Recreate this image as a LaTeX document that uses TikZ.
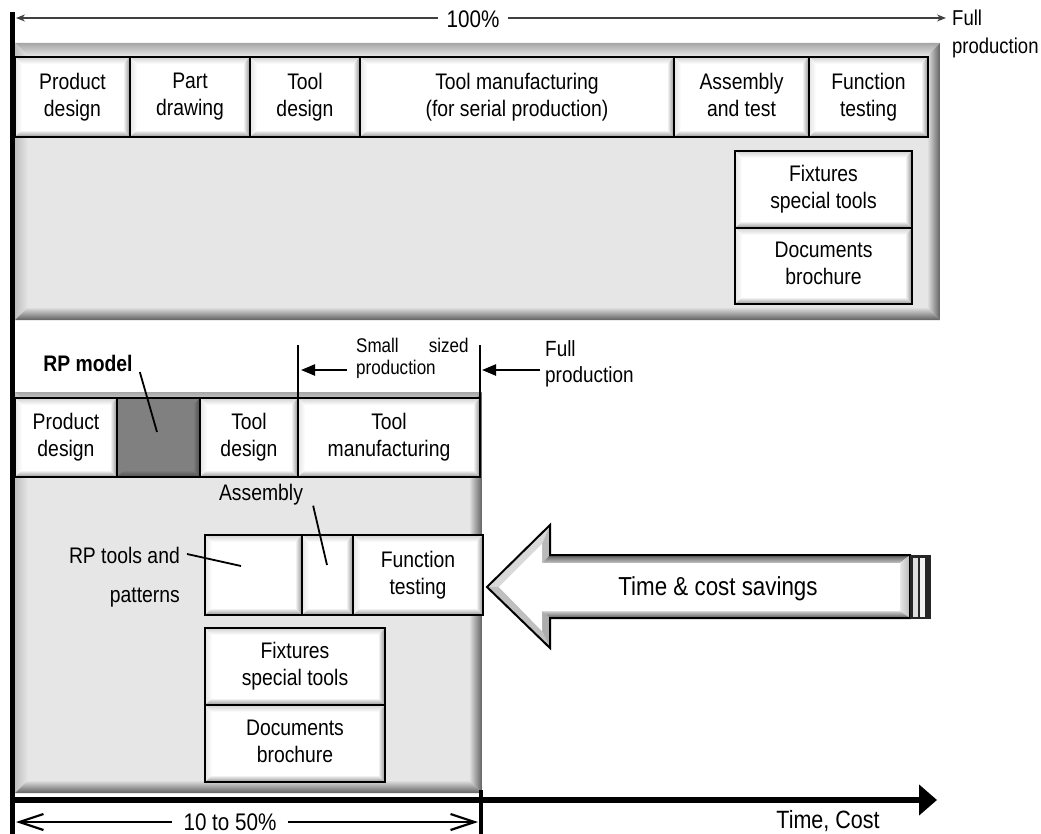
\documentclass[tikz,border=0pt]{standalone}
\usepackage{fontspec}
\setmainfont{Liberation Sans}[FakeStretch=0.86]
\usetikzlibrary{arrows.meta,calc}

\definecolor{panelgray}{HTML}{E6E6E6}
\definecolor{rpgray}{HTML}{808080}
\colorlet{cellLight}{gray!35}
\colorlet{cellDark}{gray!85}
\colorlet{rpLight}{gray!35!rpgray}
\colorlet{rpDark}{black!70}
\colorlet{panLight}{gray!70}
\colorlet{panDark}{black!62}

\newcommand\boxfont{\fontsize{22.5}{27}\selectfont}
\newcommand\topgap{\rule{0pt}{22pt}}
\newcommand\bottomgap{\rule[-5pt]{0pt}{5pt}}

\tikzset{
  % raised edge painted inside a node: base, light edge, dark edge, edge size
  bevel/.style n args={4}{path picture={
      \path (path picture bounding box.north west) coordinate (bvNW)
            (path picture bounding box.north east) coordinate (bvNE)
            (path picture bounding box.south east) coordinate (bvSE)
            (path picture bounding box.south west) coordinate (bvSW);
      \shade[top color=#2, bottom color=#1]
        (bvNW) -- (bvNE) -- ($(bvNE)+(-#4,-#4)$) -- ($(bvNW)+(#4,-#4)$) -- cycle;
      \shade[left color=#2!60!#1, right color=#1]
        (bvNW) -- (bvSW) -- ($(bvSW)+(#4,#4)$) -- ($(bvNW)+(#4,-#4)$) -- cycle;
      \shade[top color=#1, bottom color=#3]
        (bvSW) -- (bvSE) -- ($(bvSE)+(-#4,#4)$) -- ($(bvSW)+(#4,#4)$) -- cycle;
      \shade[left color=#1, right color=#3]
        (bvNE) -- (bvSE) -- ($(bvSE)+(-#4,#4)$) -- ($(bvNE)+(-#4,-#4)$) -- cycle;
  }},
  cell/.style={draw=black, line width=1.9pt, fill=white, inner sep=0pt,
    align=center, font=\boxfont, bevel={white}{cellLight}{cellDark}{7pt},
    execute at begin node=\topgap, execute at end node=\bottomgap},
  rpcell/.style={cell, fill=rpgray, bevel={rpgray}{rpLight}{rpDark}{7pt}},
  panel/.style={fill=panelgray, inner sep=0pt,
    bevel={panelgray}{panLight}{panDark}{13pt}},
  label/.style={inner sep=0pt, font=\boxfont},
  leader/.style={line width=1.8pt, black},
  bar/.style={line width=2.6pt, black},
  thinarrow/.style={line width=1.4pt, black!75},
  measure/.style={line width=2.2pt, black},
}

\begin{document}
\begin{tikzpicture}[x=1pt, y=-1pt]
\useasboundingbox (0,0) rectangle (1041,834);

% ---------- full production panel ----------
\node[panel, minimum width=925pt, minimum height=277pt] (topPanel) at (477.5,181.5) {};

\node[cell, minimum width=115pt, minimum height=80pt] (pdA) at (72.5,97) {Product\\design};
\node[cell, minimum width=120pt, minimum height=80pt] (pwA) at (190,97) {Part\\drawing};
\node[cell, minimum width=110pt, minimum height=80pt] (tdA) at (305,97) {Tool\\design};
\node[cell, minimum width=314pt, minimum height=80pt] (tmA) at (517,97) {Tool manufacturing\\(for serial production)};
\node[cell, minimum width=135pt, minimum height=80pt] (atA) at (741.5,97) {Assembly\\and test};
\node[cell, minimum width=119pt, minimum height=80pt] (ftA) at (868.5,97) {Function\\testing};
\node[cell, minimum width=177pt, minimum height=77pt] (fxA) at (823.5,189.5) {Fixtures\\special tools};
\node[cell, minimum width=177pt, minimum height=76pt] (dcA) at (823.5,266) {Documents\\brochure};

% ---------- rapid prototyping panel ----------
\node[panel, minimum width=467pt, minimum height=401pt] (botPanel) at (248.5,592.5) {};

\node[cell, minimum width=102pt, minimum height=79pt] (pdB) at (66,437.5) {Product\\design};
\node[rpcell, minimum width=83pt, minimum height=79pt] (rpB) at (158.5,437.5) {};
\node[cell, minimum width=98pt, minimum height=79pt] (tdB) at (249,437.5) {Tool\\design};
\node[cell, minimum width=182pt, minimum height=79pt] (tmB) at (389,437.5) {Tool\\manufacturing};

\node[cell, minimum width=97pt, minimum height=80pt] (rtB) at (253.5,575) {};
\node[cell, minimum width=51pt, minimum height=80pt] (asB) at (327.5,575) {};
\node[cell, minimum width=130pt, minimum height=80pt] (ftB) at (418,575) {Function\\testing};
\node[cell, minimum width=180pt, minimum height=77pt] (fxB) at (295,666.5) {Fixtures\\special tools};
\node[cell, minimum width=180pt, minimum height=77pt] (dcB) at (295,743.5) {Documents\\brochure};

% labels with leader lines
\node[label, font=\boxfont\bfseries] (rpLabel) at (88,363) {RP model};
\coordinate (rpDot) at (157,432);
\draw[leader] ($(rpLabel.east)+(7,9)$) -- (rpDot);

\node[label] (asLabel) at (261,495) {Assembly};
\coordinate (asDot) at (327,565);
\draw[leader] ($(asLabel.south east)+(10,0)$) -- (asDot);

\node[label, anchor=east] (rtLabelA) at (180,555) {RP tools and};
\node[label, anchor=east] (rtLabelB) at (180,598) {patterns};
\coordinate (rtDot) at (241,566);
\draw[leader] ($(rtLabelA.east)+(7,-1)$) -- (rtDot);

% production range markers
\coordinate (smallTop) at (298,345);
\coordinate (fullTop) at (480,345);
\draw[bar] (smallTop) -- (smallTop |- tmB.north);
\draw[bar] (fullTop) -- (fullTop |- tmB.north);

\node[inner sep=0pt, anchor=west, align=left, font=\fontsize{19.8}{22}\selectfont]
  (smallLabel) at (356,358) {Small\hspace{30pt}sized\\production};
\coordinate (smallFrom) at (347,370);
\draw[line width=2.4pt, -{Triangle[length=14pt,width=11pt]}] (smallFrom) -- ($(smallFrom -| smallTop)+(3,0)$);

\node[inner sep=0pt, anchor=west, align=left, font=\fontsize{22}{26}\selectfont]
  (fullLabel) at (545,364) {Full\\production};
\coordinate (fullFrom) at (540,370);
\draw[line width=2.4pt, -{Triangle[length=14pt,width=11pt]}] (fullFrom) -- ($(fullFrom -| fullTop)+(2,0)$);

% ---------- time and cost saving arrow ----------
\coordinate (aTip) at (487,587);
\coordinate (aHT) at (550,525);
\coordinate (aST) at (550,555);
\coordinate (aET) at (910,555);
\coordinate (aEB) at (910,618);
\coordinate (aSB) at (550,618);
\coordinate (aHB) at (550,648);
\coordinate (iTip) at (499,587);
\coordinate (iHT) at (542,544);
\coordinate (iST) at (542,563);
\coordinate (iET) at (900,563);
\coordinate (iEB) at (900,611);
\coordinate (iSB) at (542,611);
\coordinate (iHB) at (542,631);

\fill[gray!30] (aTip) -- (aHT) -- (iHT) -- (iTip) -- cycle;
\fill[gray!55] (aHT) -- (aST) -- (iST) -- (iHT) -- cycle;
\shade[top color=black!65, bottom color=gray!45] (aST) -- (aET) -- (iET) -- (iST) -- cycle;
\shade[left color=gray!20, right color=gray!55] (iET) -- (aET) -- (aEB) -- (iEB) -- cycle;
\shade[top color=gray!35, bottom color=black!65] (iSB) -- (iEB) -- (aEB) -- (aSB) -- cycle;
\fill[gray!65] (aSB) -- (aHB) -- (iHB) -- (iSB) -- cycle;
\fill[gray!50] (aHB) -- (aTip) -- (iTip) -- (iHB) -- cycle;
\fill[white] (iTip) -- (iHT) -- (iST) -- (iET) -- (iEB) -- (iSB) -- (iHB) -- cycle;
\draw[line width=2pt, line join=miter] (aTip) -- (aHT) -- (aST) -- (aET) -- (aEB) -- (aSB) -- (aHB) -- cycle;

% ribbed tail of the arrow
\fill[black!85] (910,555) rectangle (931,619);
\fill[gray!25] (912.5,557.5) rectangle (917.5,616.5);
\fill[gray!10] (920,557.5) rectangle (924.5,616.5);

\node[inner sep=0pt, font=\fontsize{26}{30}\selectfont] (saveText) at (718,589) {Time \& cost savings};

% ---------- axes and scale ----------
\coordinate (vTop) at (12.5,12);
\coordinate (vBot) at (12.5,834);
\draw[line width=5pt] (vTop) -- (vBot);

\coordinate (axisStart) at (10,800);
\coordinate (axisEnd) at (937,800);
\draw[line width=6pt, -{Triangle[length=18pt,width=30pt]}] (axisStart) -- (axisEnd);
\node[inner sep=0pt, font=\fontsize{25}{30}\selectfont] (axisLabel) at (828,821) {Time, Cost};

\coordinate (tickTop) at (481,790);
\coordinate (tickBot) at (481,834);
\draw[line width=4pt] (tickTop) -- (tickBot);

% 10 to 50 % span
\node[inner ysep=0pt, inner xsep=11pt, font=\fontsize{24}{28}\selectfont] (spanLabel) at (230,822) {10 to 50\%};
\coordinate (spanL) at (16,822);
\coordinate (spanR) at (478,822);
\draw[measure, {Straight Barb[length=24pt,width=16pt]}-] (spanL) -- (spanLabel.west);
\draw[measure, -{Straight Barb[length=24pt,width=16pt]}] (spanLabel.east) -- (spanR);

% 100 % span
\node[inner ysep=0pt, inner xsep=8pt, font=\fontsize{24}{28}\selectfont] (fullPct) at (473,19) {100\%};
\coordinate (pctL) at (16,18);
\coordinate (pctR) at (946,18);
\draw[thinarrow, {Stealth[length=9pt,width=7pt]}-] (pctL) -- (fullPct.west |- pctL);
\draw[thinarrow, -{Stealth[length=9pt,width=7pt]}] (fullPct.east |- pctR) -- (pctR);
\node[inner sep=0pt, anchor=west, align=left, font=\fontsize{21.5}{28}\selectfont]
  (fullTopLabel) at (952,34) {Full\\production};

\end{tikzpicture}
\end{document}
